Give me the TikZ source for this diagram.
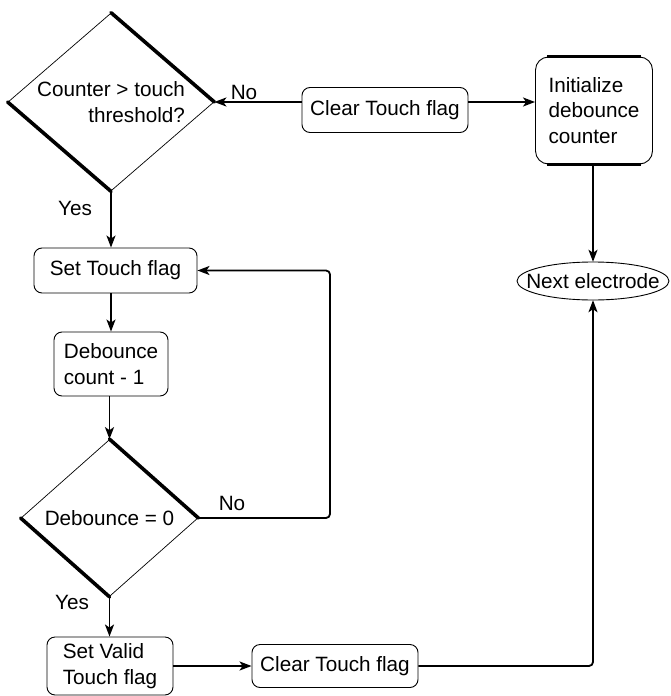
\documentclass[tikz,border=0pt]{standalone}
\usepackage{fontspec}
\setmainfont{Liberation Sans}
\usetikzlibrary{arrows.meta,shapes.geometric}

\begin{document}
\begin{tikzpicture}[x=1pt, y=-1pt, >={Stealth[length=12pt, width=9pt, inset=3pt]},
    font=\fontsize{20.7}{25.5}\selectfont,
    box/.style={draw, rounded corners=8pt, line width=0.9pt, inner sep=0pt, align=left},
    test/.style={draw, diamond, line width=0.7pt, inner sep=0pt},
    rim/.style={line width=3.6pt, line cap=round},
    flow/.style={->, line width=1.8pt}]
    % 1. Page frame
    \useasboundingbox (0,0) rectangle (670,696);
    \clip (0,0) rectangle (670,696);

    % 2. Decisions
    \node[test, align=right, shape aspect=1.157, minimum width=206pt, minimum height=178pt]
        (thresh) at (111,102) {Counter > touch\\threshold?};
    \node[test, shape aspect=1.127, minimum width=177pt, minimum height=157pt]
        (deb) at (109.5,518) {Debounce = 0};
    \draw[rim] (thresh.north) -- (thresh.east) (thresh.west) -- (thresh.south);
    \draw[rim] (deb.north) -- (deb.east) (deb.west) -- (deb.south);

    % 3. Actions
    \node[box, minimum width=166pt, minimum height=45pt] (clr1) at (385,110) {Clear Touch flag};
    \node[box, rounded corners=13pt, minimum width=117pt, minimum height=107pt] (init) at (594,110.5)
        {Initialize\\debounce\\counter};
    \draw[line width=2.4pt] ([xshift=12pt]init.north west) -- ([xshift=-12pt]init.north east);
    \draw[line width=2.6pt] ([xshift=12pt]init.south west) -- ([xshift=-12pt]init.south east);
    \node[box, minimum width=163pt, minimum height=45pt] (settouch) at (115.5,270.5) {Set Touch flag};
    \node[box, minimum width=114pt, minimum height=64pt] (dcount) at (111,364) {Debounce\\count - 1};
    \node[box, minimum width=126pt, minimum height=58pt] (setvalid) at (110,666) {Set Valid\\Touch flag};
    \node[box, minimum width=166pt, minimum height=43pt] (clr2) at (335,666) {Clear Touch flag};

    % 4. End point
    \node[inner sep=0pt, minimum width=152pt, minimum height=38pt] (next) at (593,281) {Next electrode};
    \draw[line width=0.9pt] (next.center) ellipse [x radius=76pt, y radius=19pt];

    % 5. Connectors
    \draw[flow] (clr1.west |- thresh.east) -- (thresh.east);
    \draw[flow] (clr1.east |- thresh.east) -- (init.west |- thresh.east);
    \draw[flow] (init.south -| next.north) -- (next.north);
    \draw[flow] (thresh.south) -- (thresh.south |- settouch.north);
    \draw[flow] (dcount.north |- settouch.south) -- (dcount.north);
    \draw[flow] (dcount.south -| deb.north) -- (deb.north);
    \draw[flow] (deb.south) -- (deb.south |- setvalid.north);
    \coordinate (loop) at (330,0);
    \draw[flow, rounded corners=4pt] (deb.east) -- (deb.east -| loop) |- (settouch.east);
    \draw[flow] (setvalid.east) -- (clr2.west);
    \draw[flow, rounded corners=4pt] (clr2.east) -| (next.south);

    % 6. Branch labels
    \node (no1) at (244,92) {No};
    \node (yes1) at (75,208) {Yes};
    \node (no2) at (232,503) {No};
    \node (yes2) at (72,602) {Yes};
\end{tikzpicture}
\end{document}
